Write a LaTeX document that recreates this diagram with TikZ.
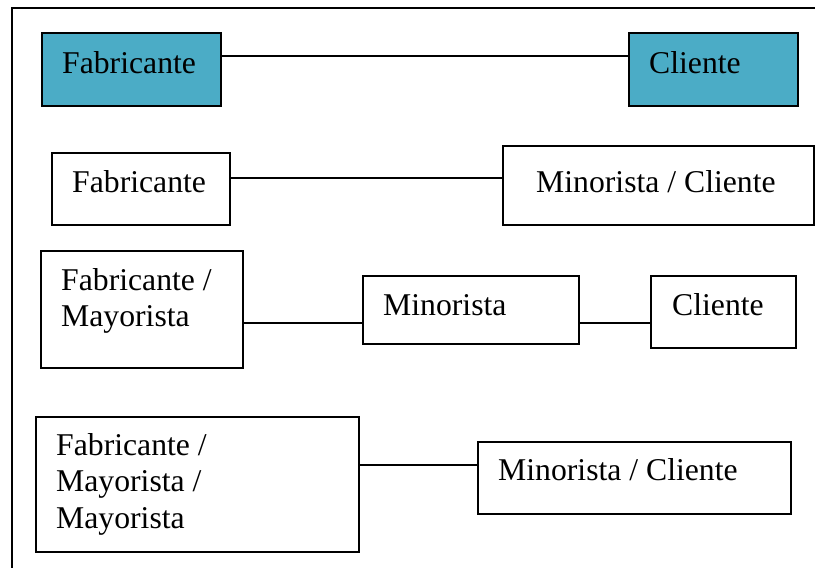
\documentclass[tikz,border=0pt]{standalone}
\usepackage{fontspec}
\setmainfont{Liberation Serif}
\definecolor{teal1}{RGB}{75,172,198}
\tikzset{
  box/.style={draw=black, line width=1.8pt, rectangle, inner sep=0pt, anchor=north west},
  tealbox/.style={box, fill=teal1},
  lbl/.style={anchor=base west, inner sep=0pt, font=\fontsize{31.7}{36.7}\selectfont},
  conn/.style={line width=1.6pt},
}
\newcommand{\stacklines}[1]{\vtop{\baselineskip=36.7pt #1}}
\begin{document}
\begin{tikzpicture}[x=1pt,y=-1pt]
\useasboundingbox (0,0) rectangle (815,568);
% outer frame (cropped)
\draw[line width=1.5pt] (12,570) -- (12,8) -- (817,8);

% Row 1
\node[tealbox, minimum width=179pt, minimum height=73pt] (f1) at (41,32) {};
\node[tealbox, minimum width=169pt, minimum height=73pt] (c1) at (628,32) {};
\node[lbl] (tf1) at (62,73) {Fabricante};
\node[lbl] (tc1) at (649,73) {Cliente};
\draw[conn] (f1.east |- 0,56) -- (c1.west |- 0,56);

% Row 2
\node[box, minimum width=178pt, minimum height=72pt] (f2) at (51,152) {};
\node[box, minimum width=311pt, minimum height=79pt] (m2) at (502,145) {};
\node[lbl] (tf2) at (72,192) {Fabricante};
\node[lbl] (tm2) at (536,192) {Minorista / Cliente};
\draw[conn] (f2.east |- 0,178) -- (m2.west |- 0,178);

% Row 3
\node[box, minimum width=202pt, minimum height=117pt] (f3) at (40,250) {};
\node[box, minimum width=216pt, minimum height=68pt] (m3) at (362,275) {};
\node[box, minimum width=145pt, minimum height=72pt] (c3) at (650,275) {};
\node[lbl] (tf3) at (61,290) {\stacklines{\hbox{Fabricante /}\hbox{Mayorista}}};
\node[lbl] (tm3) at (383,315) {Minorista};
\node[lbl] (tc3) at (672,315) {Cliente};
\draw[conn] (f3.east |- 0,323) -- (m3.west |- 0,323);
\draw[conn] (m3.east |- 0,323) -- (c3.west |- 0,323);

% Row 4
\node[box, minimum width=323pt, minimum height=135pt] (f4) at (35,416) {};
\node[box, minimum width=313pt, minimum height=72pt] (m4) at (477,441) {};
\node[lbl] (tf4) at (56,455) {\stacklines{\hbox{Fabricante /}\hbox{Mayorista /}\hbox{Mayorista}}};
\node[lbl] (tm4) at (498,480) {Minorista / Cliente};
\draw[conn] (f4.east |- 0,465) -- (m4.west |- 0,465);
\end{tikzpicture}
\end{document}
